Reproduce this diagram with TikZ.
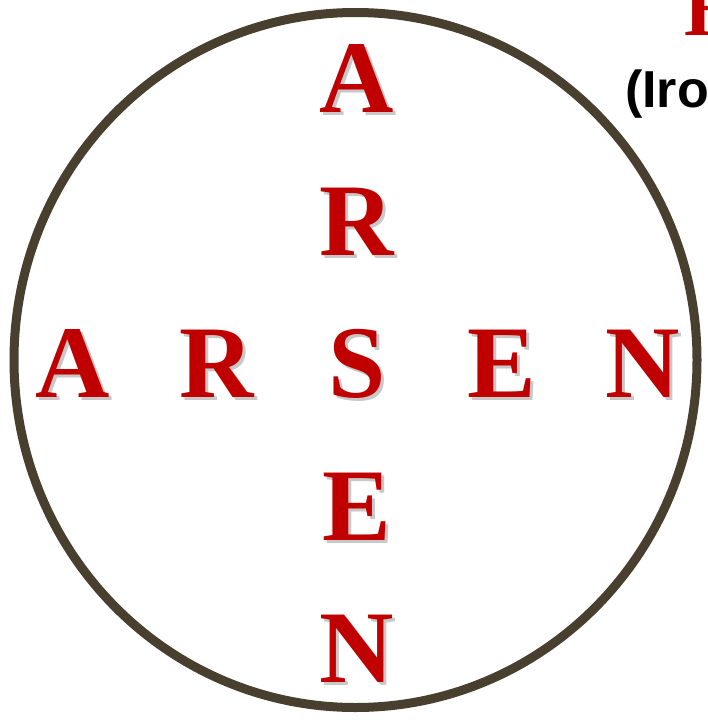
\documentclass[tikz,border=0pt]{standalone}
\usepackage{fontspec}
\setmainfont{Liberation Serif}
\newfontfamily\sansbold{Liberation Sans}
\definecolor{ringcol}{HTML}{483F2E}
\definecolor{letred}{HTML}{C00000}
\definecolor{shadecol}{HTML}{C8C8C8}
\newcommand{\shadowed}[1]{\rlap{\hspace{3pt}\raisebox{-3pt}{\textcolor{shadecol}{#1}}}\textcolor{letred}{#1}}
\begin{document}
\begin{tikzpicture}[x=1pt,y=-1pt,
  letter/.style={inner sep=0pt, anchor=base,
    font=\fontsize{103}{103}\selectfont\bfseries},
  ring/.style={draw=ringcol, line width=9pt}]
\useasboundingbox (0,0) rectangle (708,720);
\clip (0,0) rectangle (708,720);
% circle
\draw[ring] (355.5,360) ellipse [x radius=341.5, y radius=347.5];
% vertical word
\node[letter] (va) at (357,112) {\shadowed{A}};
\node[letter] (vr) at (357,255) {\shadowed{R}};
\node[letter] (cs) at (357,397) {\shadowed{S}};
\node[letter] (ve) at (357,540) {\shadowed{E}};
\node[letter] (vn) at (357,682) {\shadowed{N}};
% horizontal word
\node[letter] (ha) at (73,397) {\shadowed{A}};
\node[letter] (hr) at (217,397) {\shadowed{R}};
\node[letter] (he) at (502,397) {\shadowed{E}};
\node[letter] (hn) at (643,397) {\shadowed{N}};
% top-right partial title
\node[inner sep=0pt, anchor=base west, text=letred,
  font=\fontsize{80}{80}\selectfont\bfseries] (title) at (684,35) {H};
\node[inner sep=0pt, anchor=base west, text=black,
  font=\sansbold\fontsize{52}{52}\selectfont\bfseries] (sub) at (625,107) {(Iro};
\end{tikzpicture}
\end{document}
